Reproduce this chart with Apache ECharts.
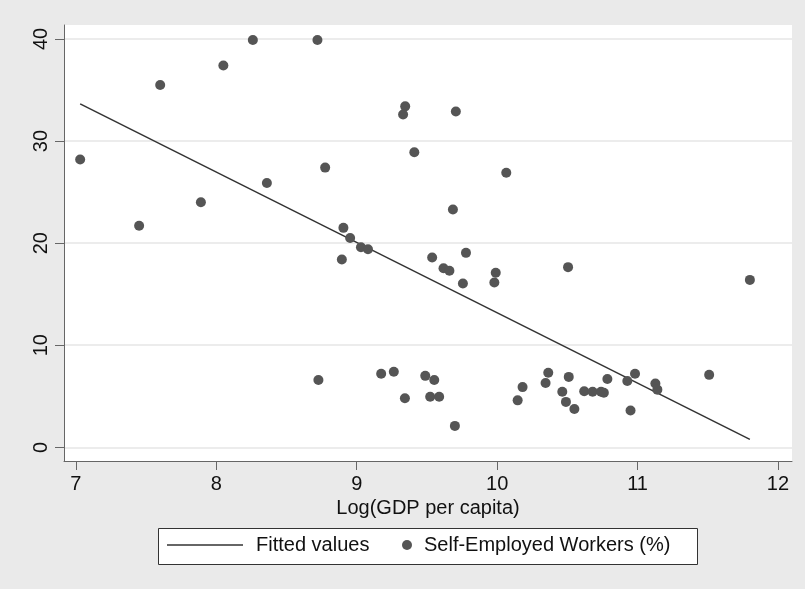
<!DOCTYPE html>
<html>
<head>
<meta charset="utf-8">
<script src="https://cdn.jsdelivr.net/npm/echarts@6/dist/echarts.min.js"></script>
<style>
html,body{margin:0;padding:0;background:#eaeaea;}
#chart{width:805px;height:589px;}
</style>
</head>
<body>
<div id="chart"></div>
<script>
// Log(GDP per capita) of each country
const logGdp = [
  7.03, 7.45, 7.60, 7.89, 8.05, 8.26, 8.36, 8.72, 8.775, 8.905,
  8.953, 9.03, 9.08, 8.894, 9.345, 9.33, 9.706, 9.41, 10.065, 9.685,
  9.537, 9.778, 9.618, 9.66, 9.756, 9.99, 9.98, 10.505, 11.80, 8.727,
  9.174, 9.264, 9.343, 9.488, 9.552, 9.523, 9.587, 9.699, 10.181, 10.146,
  10.364, 10.345, 10.51, 10.464, 10.49, 10.55, 10.62, 10.68, 10.74, 10.76,
  10.785, 10.927, 10.982, 10.95, 11.127, 11.141, 11.51
];
// Self-employed workers (%)
const selfEmployed = [
  28.2, 21.7, 35.5, 24.0, 37.4, 39.9, 25.9, 39.9, 27.4, 21.5,
  20.5, 19.6, 19.4, 18.4, 33.4, 32.6, 32.9, 28.9, 26.9, 23.3,
  18.6, 19.05, 17.55, 17.3, 16.05, 17.1, 16.15, 17.65, 16.4, 6.6,
  7.2, 7.4, 4.8, 7.0, 6.6, 4.95, 4.95, 2.1, 5.9, 4.6,
  7.3, 6.3, 6.9, 5.45, 4.45, 3.75, 5.5, 5.45, 5.45, 5.35,
  6.7, 6.5, 7.2, 3.6, 6.25, 5.65, 7.1
];
// Fitted values (linear fit) at the ends of the data range
const fitX = [7.03, 11.80];
const fitY = [33.64, 0.78];

const xTicks = [7, 8, 9, 10, 11, 12];
const yTicks = [0, 10, 20, 30, 40];

const seriesNames = ['Fitted values', 'Self-Employed Workers (%)'];
const xTitle = 'Log(GDP per capita)';

const FONT = '"Liberation Sans", Arial, sans-serif';

const scatterData = logGdp.map((x, i) => [x, selfEmployed[i]]);
const fitData = fitX.map((x, i) => [x, fitY[i]]);

const chart = echarts.init(document.getElementById('chart'), null, {renderer: 'canvas'});
chart.setOption({
  backgroundColor: '#eaeaea',
  animation: false,
  textStyle: {fontFamily: FONT},
  grid: {
    left: 64, top: 25, right: 13, bottom: 128,
    show: true, backgroundColor: '#ffffff', borderWidth: 0
  },
  graphic: [{
    type: 'rect', left: 158, top: 528, z: 0,
    shape: {width: 539, height: 36},
    style: {fill: '#ffffff', stroke: '#333333', lineWidth: 1}
  }],
  legend: [{
    data: [{name: seriesNames[0], icon: 'rect', itemStyle: {color: '#333333'}}],
    left: 167, top: 535, z: 5,
    itemWidth: 76, itemHeight: 1.5,
    padding: 0,
    textStyle: {fontFamily: FONT, fontSize: 20, color: '#111', padding: [0, 0, 0, 8]}
  }, {
    data: [{name: seriesNames[1], icon: 'circle'}],
    left: 402, top: 535, z: 5,
    itemWidth: 10, itemHeight: 10,
    padding: 0,
    textStyle: {fontFamily: FONT, fontSize: 20, color: '#111', padding: [0, 0, 0, 7]}
  }],
  xAxis: {
    type: 'value',
    min: 6.915, max: 12.1,
    name: xTitle,
    nameLocation: 'middle',
    nameGap: 36,
    nameTextStyle: {fontFamily: FONT, fontSize: 20, color: '#111'},
    axisLine: {show: true, onZero: false, lineStyle: {color: '#666', width: 1}},
    axisTick: {show: true, length: 9, customValues: xTicks, lineStyle: {color: '#666'}},
    axisLabel: {customValues: xTicks, margin: 13, fontFamily: FONT, fontSize: 20, color: '#111'},
    splitLine: {show: false}
  },
  yAxis: {
    type: 'value',
    min: -1.34, max: 41.37,
    axisLine: {show: true, onZero: false, lineStyle: {color: '#666', width: 1}},
    axisTick: {show: true, length: 9, customValues: yTicks, lineStyle: {color: '#666'}},
    axisLabel: {customValues: yTicks, rotate: 90, margin: 13, fontFamily: FONT, fontSize: 20, color: '#111'},
    splitLine: {show: true, lineStyle: {color: '#e6e6e6', width: 1.5}}
  },
  series: [{
    name: seriesNames[0],
    type: 'line',
    data: fitData,
    symbol: 'none',
    lineStyle: {color: '#333333', width: 1.5},
    itemStyle: {color: '#333333'},
    z: 3
  }, {
    name: seriesNames[1],
    type: 'scatter',
    data: scatterData,
    symbol: 'circle',
    symbolSize: 10,
    itemStyle: {color: '#555555', opacity: 1},
    z: 4
  }]
});
</script>
</body>
</html>
